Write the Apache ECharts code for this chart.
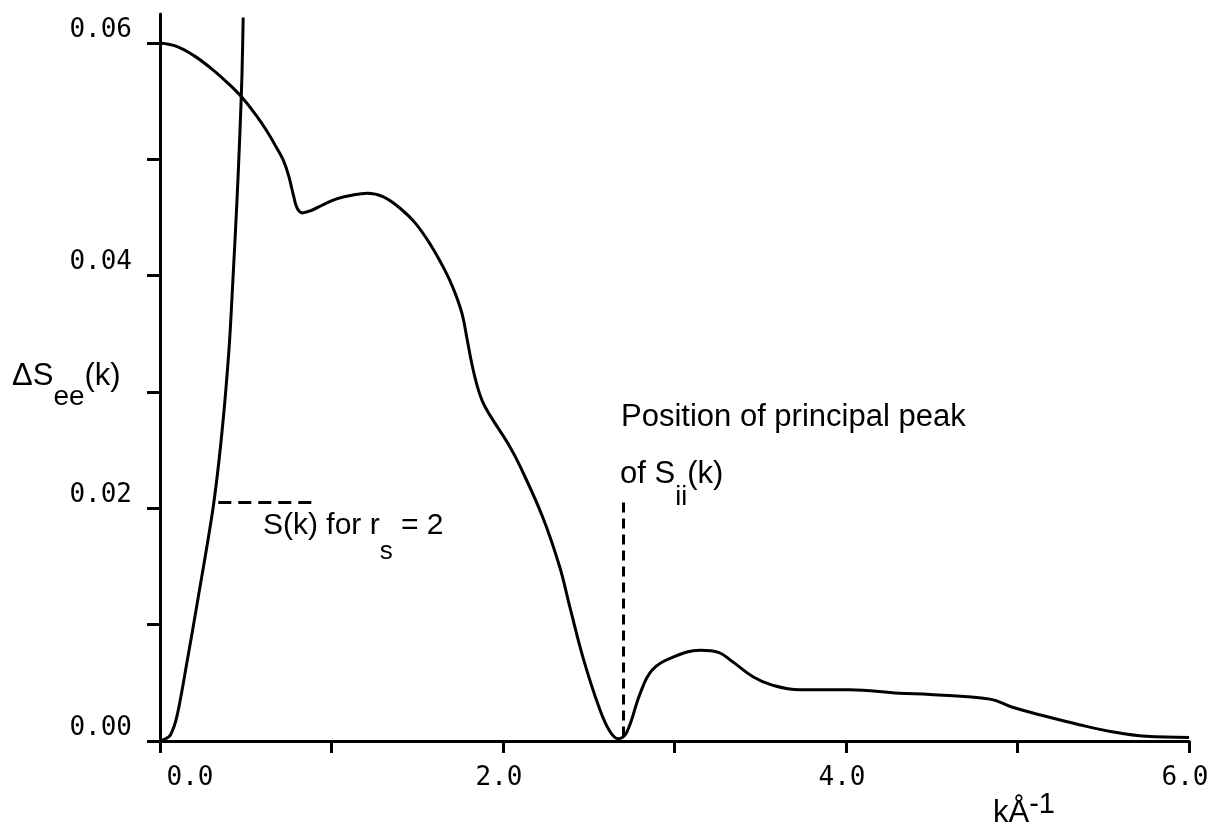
<!DOCTYPE html>
<html><head><meta charset="utf-8">
<script src="https://cdn.jsdelivr.net/npm/echarts@6/dist/echarts.min.js"></script>
<style>html,body{margin:0;padding:0;background:#fff}#c{width:1214px;height:829px}</style>
</head><body><div id="c"></div>
<script>
// ---- data ----
const kMain = [0, 0.10, 0.20, 0.30, 0.40, 0.48, 0.56, 0.62, 0.68, 0.72, 0.75, 0.78, 0.80, 0.83, 0.88, 0.95, 1.03, 1.11, 1.21, 1.30, 1.40, 1.49, 1.58, 1.66, 1.71, 1.76, 1.79, 1.82, 1.85, 1.88, 1.92, 2.04, 2.10, 2.23, 2.33, 2.39, 2.47, 2.56, 2.62, 2.67, 2.72, 2.80, 2.87, 2.99, 3.15, 3.26, 3.34, 3.46, 3.57, 3.73, 4.02, 4.31, 4.49, 4.84, 4.97, 5.17, 5.36, 5.55, 5.75, 6.0];
const deltaSee = [0.0600, 0.0597, 0.0589, 0.0578, 0.0565, 0.0553, 0.0538, 0.0525, 0.0510, 0.0499, 0.0486, 0.0468, 0.0458, 0.0454, 0.0456, 0.0461, 0.0466, 0.0469, 0.0471, 0.0468, 0.0458, 0.0445, 0.0426, 0.0405, 0.0389, 0.0368, 0.0346, 0.0323, 0.0305, 0.0292, 0.0281, 0.0253, 0.0236, 0.0193, 0.0150, 0.0115, 0.0070, 0.0029, 0.0009, 0.0002, 0.0007, 0.0041, 0.0061, 0.0072, 0.0078, 0.0076, 0.0068, 0.0055, 0.0048, 0.0044, 0.0044, 0.0041, 0.0040, 0.0036, 0.0029, 0.0021, 0.0014, 0.0008, 0.0004, 0.0003];
const kS = [0, 0.02, 0.06, 0.10, 0.16, 0.22, 0.31, 0.361, 0.402, 0.425, 0.449, 0.466, 0.478, 0.485];
const sK_rs2 = [0, 0.0001, 0.0005, 0.0022, 0.0070, 0.0121, 0.0201, 0.0265, 0.0336, 0.0396, 0.0465, 0.0523, 0.0573, 0.0622];
const xTicks = [0, 1, 2, 3, 4, 5, 6];
const xTickLabels = [0, 2, 4, 6];
const yTicks = [0, 0.01, 0.02, 0.03, 0.04, 0.05, 0.06];
const yTickLabels = [0, 0.02, 0.04, 0.06];
const sLegendLine = [[0.34, 0.0205], [0.92, 0.0205]];
const peakLine = [[2.70, 0.0205], [2.70, 0]];
const yMax = 0.0625;

const FONT = 'Liberation Sans';
const MONO = 'DejaVu Sans Mono';
const chart = echarts.init(document.getElementById('c'), null, {renderer: 'canvas'});
const zip = (a, b) => a.map((v, i) => [v, b[i]]);

chart.setOption({
  animation: false,
  backgroundColor: '#fff',
  grid: {left: 160, right: 25, top: 14, bottom: 88, containLabel: false, outerBoundsMode: 'none'},
  xAxis: {
    type: 'value', min: 0, max: 6, interval: 1,
    axisLine: {show: true, onZero: false, lineStyle: {color: '#000', width: 3}},
    axisTick: {show: true, customValues: xTicks, length: 12, lineStyle: {color: '#000', width: 3}},
    splitLine: {show: false},
    axisLabel: {
      customValues: xTickLabels, margin: 24, color: '#000',
      fontFamily: MONO, fontSize: 26, lineHeight: 26, verticalAlign: 'top',
      formatter: v => v === 0 ? '{f|' + v.toFixed(1) + '}' : '{n|' + v.toFixed(1) + '}',
      rich: {
        f: {fontFamily: MONO, fontSize: 26, color: '#000', padding: [0, 0, 0, 60]},
        n: {fontFamily: MONO, fontSize: 26, color: '#000', padding: [0, 8, 0, 0]}
      }
    }
  },
  yAxis: {
    type: 'value', min: 0, max: yMax, interval: 0.01,
    axisLine: {show: true, onZero: false, lineStyle: {color: '#000', width: 3}},
    axisTick: {show: true, customValues: yTicks, length: 13, lineStyle: {color: '#000', width: 3}},
    splitLine: {show: false},
    axisLabel: {
      customValues: yTickLabels, margin: 28, color: '#000',
      fontFamily: MONO, fontSize: 26, lineHeight: 26, verticalAlign: 'bottom',
      formatter: v => v.toFixed(2)
    }
  },
  series: [
    {
      name: 'dSee', type: 'line', data: zip(kMain, deltaSee), showSymbol: false, smooth: 0.4,
      lineStyle: {color: '#000', width: 3}, silent: true, z: 3,
      markLine: {
        silent: true, symbol: ['none', 'none'], label: {show: false},
        lineStyle: {color: '#000', width: 3, type: [10, 6]},
        data: [[{coord: peakLine[0]}, {coord: peakLine[1]}]]
      }
    },
    {
      name: 'S', type: 'line', data: zip(kS, sK_rs2), showSymbol: false, smooth: 0.3,
      lineStyle: {color: '#000', width: 3}, silent: true, z: 3,
      markLine: {
        silent: true, symbol: ['none', 'none'], label: {show: false},
        lineStyle: {color: '#000', width: 3, type: [13, 7]},
        data: [[{coord: sLegendLine[0]}, {coord: sLegendLine[1]}]]
      }
    }
  ],
  graphic: [
    {
      type: 'text', left: 12, top: 361, silent: true,
      style: {
        text: '{m|ΔS}{s|ee}{m|(k)}', fill: '#000',
        rich: {
          m: {fontFamily: FONT, fontSize: 31, lineHeight: 34, padding: [0, 0, 19, 0], verticalAlign: 'bottom', fill: '#000'},
          s: {fontFamily: FONT, fontSize: 28, lineHeight: 34, verticalAlign: 'bottom', fill: '#000'}
        }
      }
    },
    {
      type: 'text', left: 263, top: 511, silent: true,
      style: {
        text: '{m|S(k) for r}{s|s}{m| = 2}', fill: '#000',
        rich: {
          m: {fontFamily: FONT, fontSize: 30, lineHeight: 34, padding: [0, 0, 24, 0], verticalAlign: 'bottom', fill: '#000'},
          s: {fontFamily: FONT, fontSize: 26, lineHeight: 34, verticalAlign: 'bottom', fill: '#000'}
        }
      }
    },
    {
      type: 'text', left: 621, top: 400, silent: true,
      style: {text: 'Position of principal peak', fontFamily: FONT, fontSize: 31, lineHeight: 34, fill: '#000'}
    },
    {
      type: 'text', left: 620, top: 459, silent: true,
      style: {
        text: '{m|of S}{s|ii}{m|(k)}', fill: '#000',
        rich: {
          m: {fontFamily: FONT, fontSize: 31, lineHeight: 34, padding: [0, 0, 21, 0], verticalAlign: 'bottom', fill: '#000'},
          s: {fontFamily: FONT, fontSize: 27, lineHeight: 34, verticalAlign: 'bottom', fill: '#000'}
        }
      }
    },
    {
      type: 'text', left: 993, top: 790, silent: true,
      style: {
        text: '{m|kÅ}{p|-1}', fill: '#000',
        rich: {
          m: {fontFamily: FONT, fontSize: 31, lineHeight: 34, verticalAlign: 'bottom', fill: '#000'},
          p: {fontFamily: FONT, fontSize: 29, lineHeight: 34, padding: [0, 0, 10, 0], verticalAlign: 'bottom', fill: '#000'}
        }
      }
    }
  ]
});
</script>
</body></html>
